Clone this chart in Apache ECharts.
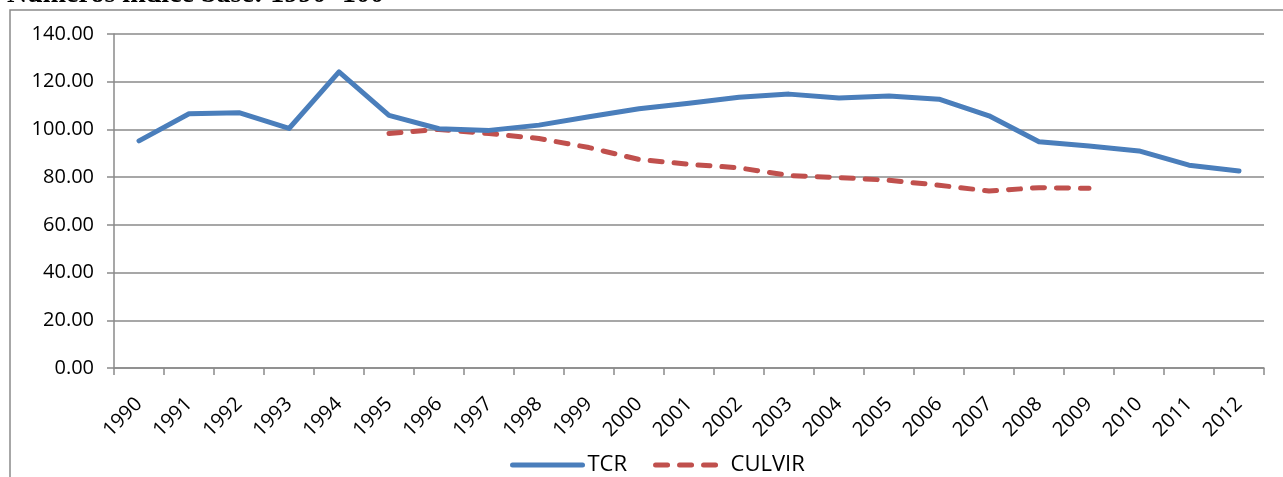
<!DOCTYPE html>
<html>
<head>
<meta charset="utf-8">
<script src="https://cdn.jsdelivr.net/npm/echarts@6/dist/echarts.min.js"></script>
<style>
  html, body { margin: 0; padding: 0; background: #fff; }
  #chart { width: 1283px; height: 477px; }
</style>
</head>
<body>
<div id="chart"></div>
<script>
// Years on the category axis
const years = ['1990','1991','1992','1993','1994','1995','1996','1997','1998','1999','2000','2001',
  '2002','2003','2004','2005','2006','2007','2008','2009','2010','2011','2012'];

// Real exchange rate index (TCR)
const tcr = [95.2, 106.6, 107.0, 100.4, 124.1, 105.9, 100.3, 99.6, 101.8, 105.3, 108.7, 111.0,
  113.5, 114.8, 113.2, 114.0, 112.7, 105.7, 94.8, 93.1, 91.0, 85.0, 82.6];

// CULVIR index, available 1995–2009
const culvir = [null, null, null, null, null, 98.3, 100.0, 98.3, 96.2, 92.4, 87.4, 85.4,
  83.9, 80.7, 79.8, 78.7, 76.6, 74.2, 75.6, 75.3, null, null, null];

// Value-axis range
const yMin = 0, yMax = 140, yStep = 20;

const titleText = 'Números índice base: 1990=100';

const gray = '#8a8a8a';
const font = "'Open Sans', 'Noto Sans', sans-serif";

const chart = echarts.init(document.getElementById('chart'), null, { renderer: 'canvas' });

chart.setOption({
  animation: false,
  backgroundColor: '#fff',
  graphic: [
    {
      type: 'rect',
      shape: { x: 10, y: 10, width: 1300, height: 500 },
      style: { fill: 'none', stroke: gray, lineWidth: 1.5 },
      silent: true,
      z: -1
    },
    {
      type: 'text',
      x: 7,
      y: -19,
      style: {
        text: titleText,
        fontFamily: "'Liberation Serif', 'DejaVu Serif', serif",
        fontWeight: 'bold',
        fontSize: 28,
        fill: '#000'
      }
    }
  ],
  grid: { left: 114, right: 19, top: 34, bottom: 109, containLabel: false },
  legend: {
    top: 449,
    left: 505,
    itemWidth: 70,
    itemHeight: 8,
    itemGap: 26,
    textStyle: { fontFamily: font, fontSize: 22, color: '#000' },
    itemStyle: { opacity: 0 },
    lineStyle: { width: 5, cap: 'round' },
    data: ['TCR', 'CULVIR']
  },
  xAxis: {
    type: 'category',
    data: years,
    boundaryGap: true,
    axisLine: { lineStyle: { color: gray, width: 1.5 } },
    axisTick: { show: true, length: 7, alignWithLabel: false, lineStyle: { color: gray, width: 1.5 } },
    axisLabel: { rotate: 45, interval: 0, margin: 33, fontFamily: font, fontSize: 20, color: '#000' },
    splitLine: { show: false }
  },
  yAxis: {
    type: 'value',
    min: yMin,
    max: yMax,
    interval: yStep,
    axisLine: { show: true, lineStyle: { color: gray, width: 1.5 } },
    axisTick: { show: true, length: 7, lineStyle: { color: gray, width: 1.5 } },
    axisLabel: {
      margin: 20,
      fontFamily: font,
      fontSize: 20,
      color: '#000',
      formatter: v => v.toFixed(2)
    },
    splitLine: { show: true, lineStyle: { color: gray, width: 1.5 } }
  },
  series: [
    {
      name: 'TCR',
      type: 'line',
      data: tcr,
      symbol: 'none',
      color: '#4a7ebb',
      lineStyle: { color: '#4a7ebb', width: 5, cap: 'round', join: 'round' },
      z: 3
    },
    {
      name: 'CULVIR',
      type: 'line',
      data: culvir,
      symbol: 'none',
      connectNulls: false,
      color: '#c0504d',
      lineStyle: { color: '#c0504d', width: 5, type: [12, 12], cap: 'round', join: 'round' },
      z: 2
    }
  ]
});
</script>
</body>
</html>
